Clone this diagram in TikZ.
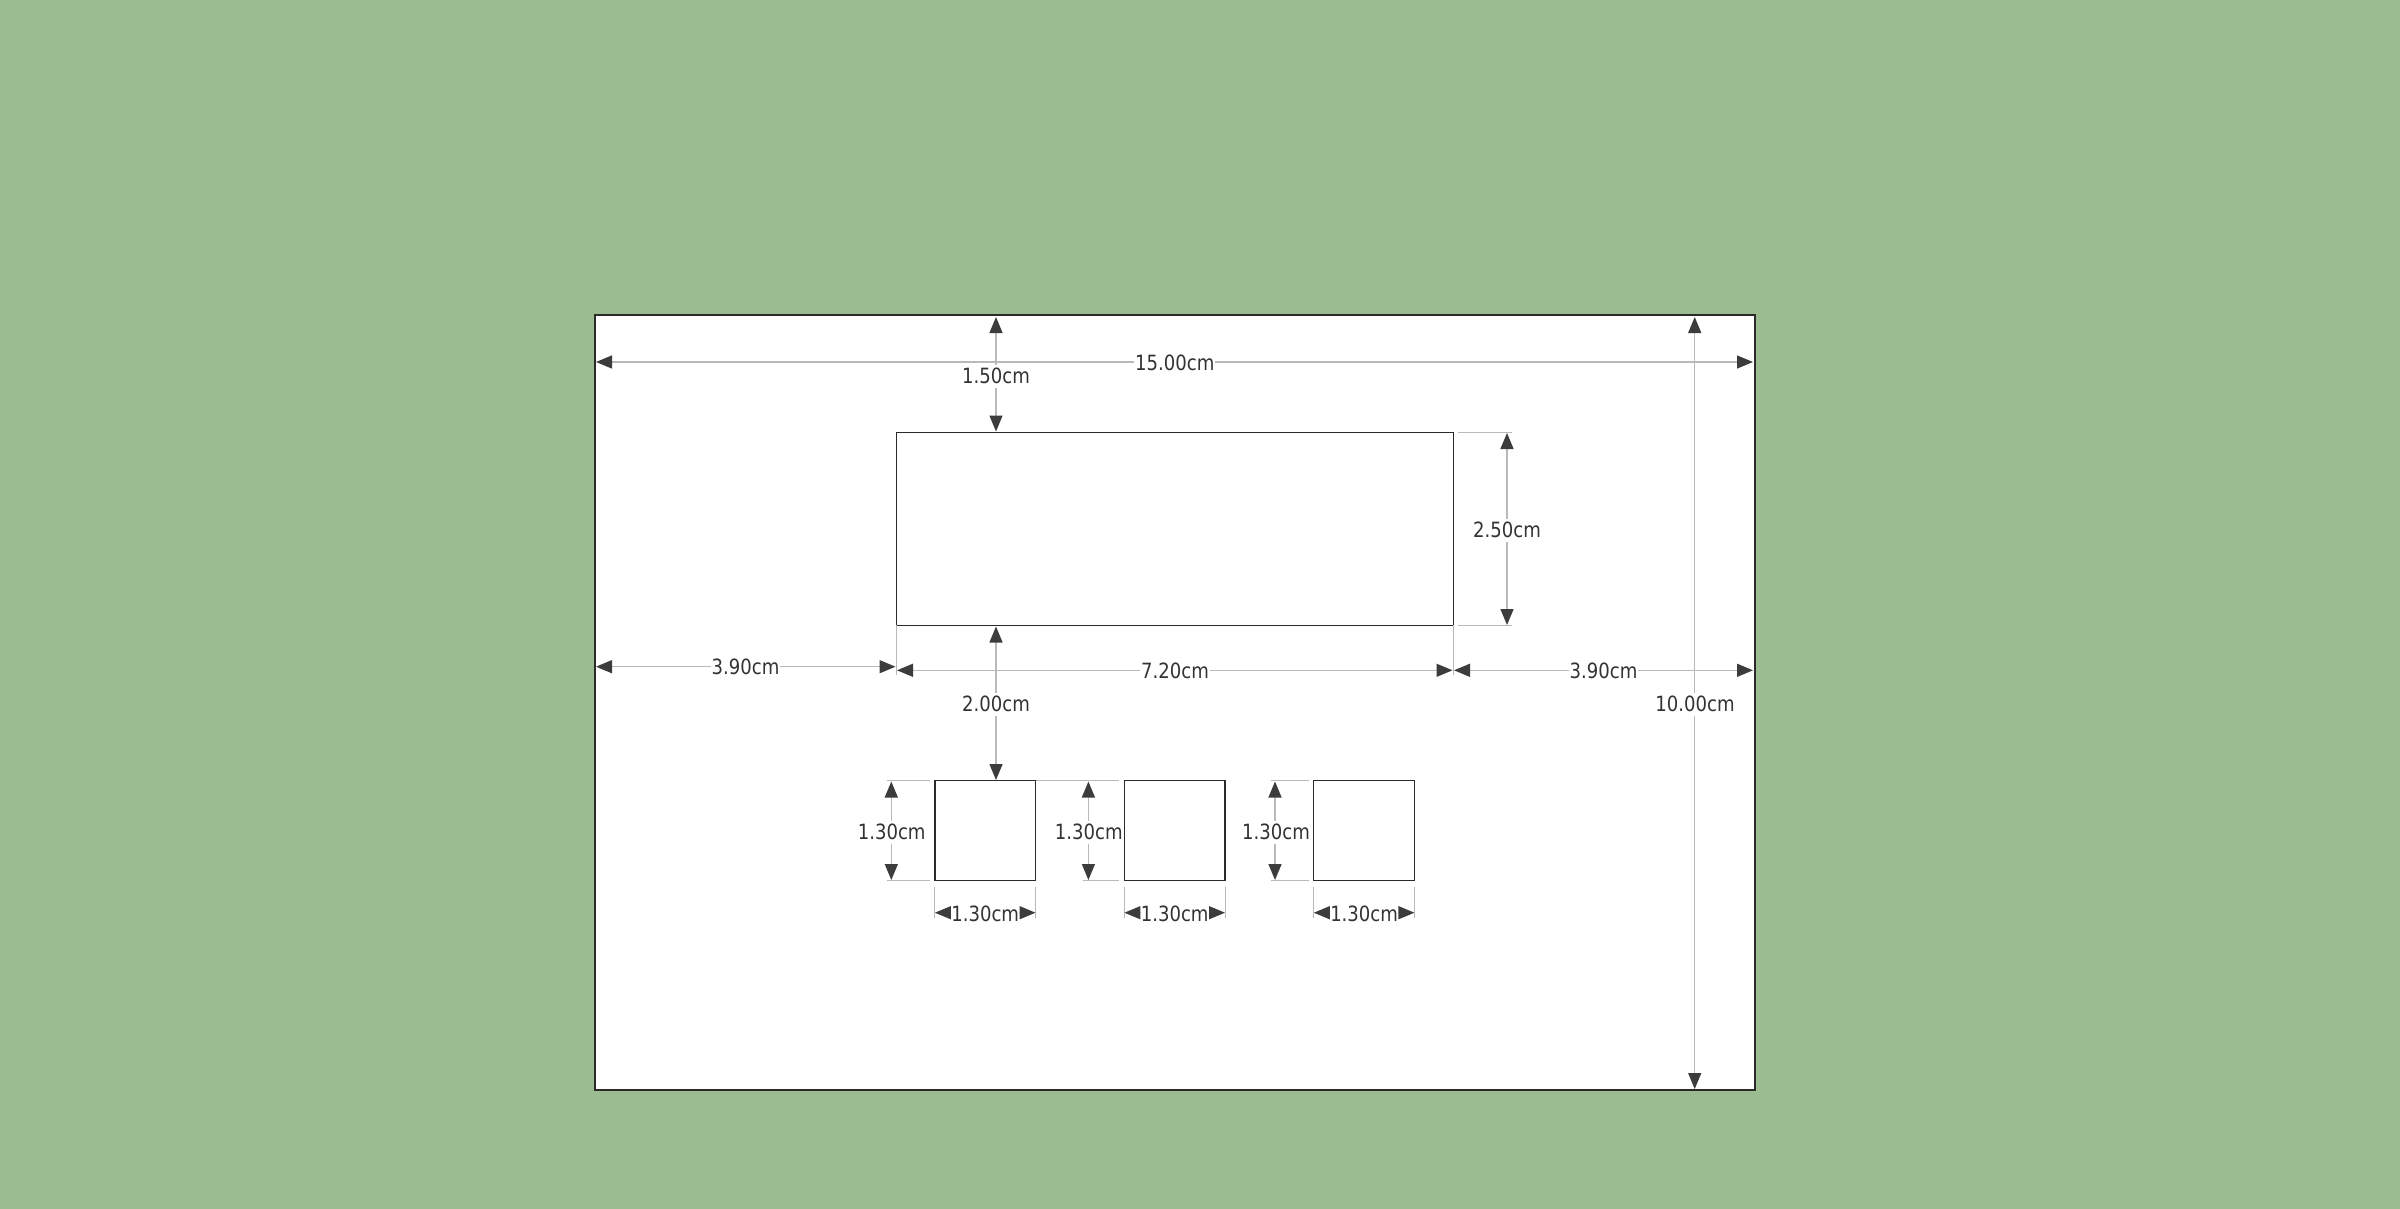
\documentclass[tikz,border=0pt]{standalone}
\usepackage{fontspec}
\setmainfont{DejaVu Sans}[FakeStretch=0.86]
\usetikzlibrary{arrows.meta,calc}
\definecolor{bgc}{HTML}{9BBC91}
\definecolor{dimc}{HTML}{B9B9B9}
\definecolor{tipc}{HTML}{3C3C3C}
\definecolor{edgec}{HTML}{2A2A2A}
\definecolor{txtc}{HTML}{333333}
\tikzset{
  x=1pt,y=-1pt,
  sheet/.style={draw=edgec,fill=white,line width=1.6pt,inner sep=0,outer sep=0,minimum width=1160.3pt,minimum height=775pt},
  bigbox/.style={draw=edgec,fill=white,line width=1.2pt,inner sep=0,outer sep=0,minimum width=557pt,minimum height=193pt},
  smallbox/.style={draw=edgec,fill=white,line width=1.2pt,inner sep=0,outer sep=0,minimum width=100.6pt,minimum height=100pt},
  dimline/.style={draw=dimc,line width=1.3pt,{Triangle[length=16pt,width=13pt,fill=tipc,color=tipc]}-{Triangle[length=16pt,width=13pt,fill=tipc,color=tipc]}},
  extline/.style={draw=dimc,line width=1pt},
  lab/.style={font=\fontsize{21}{21}\selectfont,text=txtc,fill=white,inner xsep=1pt,inner ysep=4pt,text height=15pt,text depth=0pt},
}
\begin{document}
\begin{tikzpicture}
\useasboundingbox (0,0) rectangle (2400,1209);
\fill[bgc] (0,0) rectangle (2400,1209);
% shapes
\node[sheet] (page) at (1174.85,702.5) {};
\node[bigbox] (big) at (1174.8,528.8) {};
\node[smallbox] (s1) at (985.2,830.7) {};
\node[smallbox] (s2) at (1174.7,830.7) {};
\node[smallbox] (s3) at (1364.1,830.7) {};
% free ends of dimension lines
\coordinate (pL15) at (596,362);
\coordinate (pR15) at (1753,362);
\coordinate (a150t) at (996,317);
\coordinate (a150b) at (996,431.5);
\coordinate (a200t) at (996,626.5);
\coordinate (a200b) at (996,780);
\coordinate (a1000t) at (1694.7,317);
\coordinate (a1000b) at (1694.7,1089);
\coordinate (a390l) at (596,666.7);
\coordinate (a390r) at (895.5,666.7);
\coordinate (a720l) at (897,670.3);
\coordinate (a720r) at (1452.5,670.3);
\coordinate (b390l) at (1454,670.3);
\coordinate (b390r) at (1753,670.3);
\coordinate (a250t) at (1507,433);
\coordinate (a250b) at (1507,625);
% extension lines
\draw[extline] (big.south west) -- ++(0,50);
\draw[extline] (big.south east) -- ++(0,50);
\draw[extline] (1458,432.3) -- (1512,432.3);
\draw[extline] (1458,625.3) -- (1512,625.3);
\draw[extline] (886.7,780.7) -- (930,780.7);
\draw[extline] (886.7,880.7) -- (930,880.7);
\draw[extline] (s1.north east) -- (1119.4,780.7);
\draw[extline] (1083,880.7) -- (1119.4,880.7);
\draw[extline] (1270.5,780.7) -- (1308.8,780.7);
\draw[extline] (1270.5,880.7) -- (1308.8,880.7);
\foreach \n in {s1,s2,s3}{
  \draw[extline] ($(\n.south west)+(0,6)$) -- ++(0,31);
  \draw[extline] ($(\n.south east)+(0,6)$) -- ++(0,31);
}
% dimension lines
\draw[dimline] (a1000t) -- (a1000b);
\draw[dimline] (pL15) -- (pR15);
\draw[dimline] (a150t) -- (a150b);
\draw[dimline] (a200t) -- (a200b);
\draw[dimline] (a390l) -- (a390r);
\draw[dimline] (a720l) -- (a720r);
\draw[dimline] (b390l) -- (b390r);
\draw[dimline] (a250t) -- (a250b);
% small dims
\coordinate (h1t) at (891.3,781.5); \coordinate (h1b) at (891.3,880);
\coordinate (h2t) at (1088.4,781.5); \coordinate (h2b) at (1088.4,880);
\coordinate (h3t) at (1275,781.5); \coordinate (h3b) at (1275,880);
\draw[dimline] (h1t) -- (h1b);
\draw[dimline] (h2t) -- (h2b);
\draw[dimline] (h3t) -- (h3b);
\foreach \n in {s1,s2,s3}{
  \coordinate (\n wl) at (\n.west |- 0,912.7);
  \coordinate (\n wr) at (\n.east |- 0,912.7);
  \draw[dimline] (\n wl) -- (\n wr);
}
% labels
\node[lab] (t15) at (1174.8,362.5) {15.00cm};
\node[lab] (t150) at (996,376) {1.50cm};
\node[lab] (t200) at (996,704) {2.00cm};
\node[lab] (t1000) at (1695,704) {10.00cm};
\node[lab] (t250) at (1507,530) {2.50cm};
\node[lab] (t390a) at (745.5,667) {3.90cm};
\node[lab] (t720) at (1175,671) {7.20cm};
\node[lab] (t390b) at (1603.5,671) {3.90cm};
\node[lab] (th1) at (891.7,832) {1.30cm};
\node[lab] (th2) at (1088.8,832) {1.30cm};
\node[lab] (th3) at (1276,832) {1.30cm};
\node[lab,inner xsep=0pt] (tw1) at (985.2,913.5) {1.30cm};
\node[lab,inner xsep=0pt] (tw2) at (1174.7,913.5) {1.30cm};
\node[lab,inner xsep=0pt] (tw3) at (1364.1,913.5) {1.30cm};
\end{tikzpicture}
\end{document}
